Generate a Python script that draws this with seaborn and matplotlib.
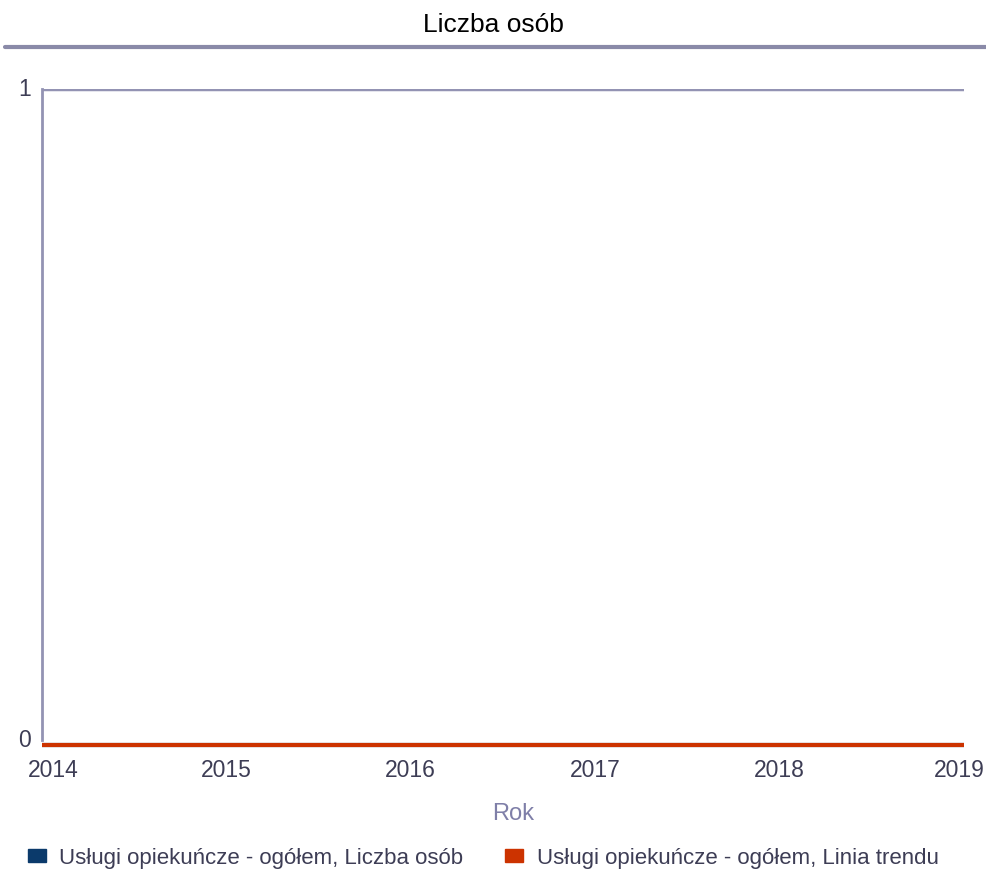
import pandas as pd
import seaborn as sns
import matplotlib.pyplot as plt
from matplotlib.lines import Line2D
from matplotlib.patches import Patch
from matplotlib.transforms import ScaledTranslation

# Data
years = [2014, 2015, 2016, 2017, 2018, 2019]
liczba_osob = [0, 0, 0, 0, 0, 0]
linia_trendu = [0, 0, 0, 0, 0, 0]

series_names = [
    "Usługi opiekuńcze - ogółem, Liczba osób",
    "Usługi opiekuńcze - ogółem, Linia trendu",
]
colors = ["#0b3a6b", "#cc3300"]

df = pd.DataFrame({
    "Rok": years * 2,
    "value": liczba_osob + linia_trendu,
    "series": [series_names[0]] * len(years) + [series_names[1]] * len(years),
})

sns.set_style("white")
plt.rcParams["font.family"] = ["Liberation Sans", "DejaVu Sans"]

fig = plt.figure(figsize=(9.87, 8.71), dpi=100)
ax = fig.add_axes([42 / 987, 1 - 745 / 871, (964 - 42) / 987, (745 - 89) / 871])

sns.lineplot(data=df, x="Rok", y="value", hue="series", palette=colors,
             linewidth=3, ax=ax, legend=False)
for ln in ax.lines:
    ln.set_clip_on(False)
    ln.set_solid_capstyle("butt")

ax.set_xlim(2014, 2019)
ax.set_ylim(0, 1)
ax.set_yticks([0, 1])
ax.set_xticks(years)

# grid line at the top value
ax.axhline(1, color="#9393b3", linewidth=2.5, zorder=1)

for s in ["top", "right", "bottom"]:
    ax.spines[s].set_visible(False)
ax.spines["left"].set_color("#9393b3")
ax.spines["left"].set_linewidth(2)
ax.spines["left"].set_bounds(0.008, 1)

tick_color = "#3d3d55"
ax.tick_params(axis="both", length=0, labelsize=16.5, labelcolor=tick_color)
ax.tick_params(axis="x", pad=10)
ax.tick_params(axis="y", pad=8)


def shift(lbl, dx_px, dy_px):
    lbl.set_transform(lbl.get_transform() + ScaledTranslation(dx_px / 100, dy_px / 100, fig.dpi_scale_trans))


for lbl in ax.get_yticklabels():
    lbl.set_verticalalignment("center")
    if lbl.get_text() == "0":
        shift(lbl, 0, 5)

xlabels = ax.get_xticklabels()
xlabels[0].set_horizontalalignment("left")
shift(xlabels[0], -14, 0)
xlabels[-1].set_horizontalalignment("right")
shift(xlabels[-1], 21, 0)

ax.set_xlabel("Rok", fontsize=17, color="#7f7fa8", labelpad=16)
ax.xaxis.set_label_coords((513 - 42) / 922, -0.089)
ax.set_ylabel("")

# title and rule under it
fig.text(493 / 987, 1 - 25 / 871, "Liczba osób", ha="center", va="center",
         fontsize=19, color="black")
fig.add_artist(Line2D([5 / 987, 1], [1 - 47 / 871] * 2, color="#8a8aa8",
                      linewidth=3, transform=fig.transFigure))

handles = [Patch(facecolor=c, edgecolor=c) for c in colors]
fig.legend(handles, series_names, loc="center left", bbox_to_anchor=(8 / 987, 1 - 858 / 871),
           ncol=2, frameon=False, fontsize=16, handlelength=0.8, handleheight=0.5,
           columnspacing=1.9, handletextpad=0.6, labelcolor=tick_color)

fig.savefig("out.png", dpi=100)
